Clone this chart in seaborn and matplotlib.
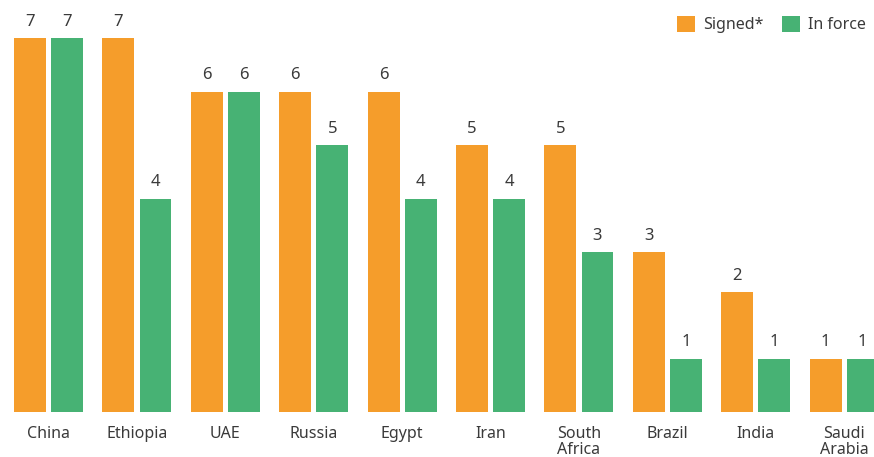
import matplotlib
matplotlib.use("Agg")
import matplotlib.pyplot as plt
import seaborn as sns
import pandas as pd
from matplotlib.patches import Patch

countries = ["China", "Ethiopia", "UAE", "Russia", "Egypt", "Iran",
             "South\nAfrica", "Brazil", "India", "Saudi\nArabia"]
signed = [7, 7, 6, 6, 6, 5, 5, 3, 2.25, 1]
in_force = [7, 4, 6, 5, 4, 4, 3, 1, 1, 1]
series = ["Signed*", "In force"]
colors = ["#F59D2B", "#47B274"]

df = pd.DataFrame({
    "country": countries * 2,
    "value": signed + in_force,
    "status": [series[0]] * len(countries) + [series[1]] * len(countries),
})

sns.set_theme(style="white")
plt.rcParams["font.family"] = ["Noto Sans", "DejaVu Sans"]
text_color = "#3a3a3a"

fig = plt.figure(figsize=(8.74, 4.57), dpi=100)
ax = fig.add_axes([0, 45 / 457, 1, 412 / 457])
sns.barplot(data=df, x="country", y="value", hue="status", order=countries,
            hue_order=series, palette=colors, width=0.84, gap=0.14,
            saturation=1, linewidth=0, ax=ax, legend=False)

for cont in ax.containers:
    ax.bar_label(cont, fmt="{:.0f}", padding=6, fontsize=12, color=text_color)

ax.set_xlim(-0.549, 9.338)
ax.set_ylim(0, 7.72)
ax.set_xlabel("")
ax.set_ylabel("")
ax.set_yticks([])
ax.tick_params(axis="x", length=0, pad=10, labelsize=11.5, colors=text_color)
for lab in ax.get_xticklabels():
    lab.set_linespacing(1.05)
    lab.set_verticalalignment("top")
for s in ax.spines.values():
    s.set_visible(False)

handles = [Patch(facecolor=c, edgecolor="none") for c in colors]
leg = fig.legend(handles, series, loc="upper right",
                 bbox_to_anchor=(1 - 2 / 874, 1 - 10 / 457),
                 ncol=2, frameon=False, fontsize=11.5, handlelength=1.1,
                 handleheight=1.1, handletextpad=0.5, columnspacing=1.2,
                 borderaxespad=0.0)
for t in leg.get_texts():
    t.set_color(text_color)

fig.savefig("out.png", dpi=100)
